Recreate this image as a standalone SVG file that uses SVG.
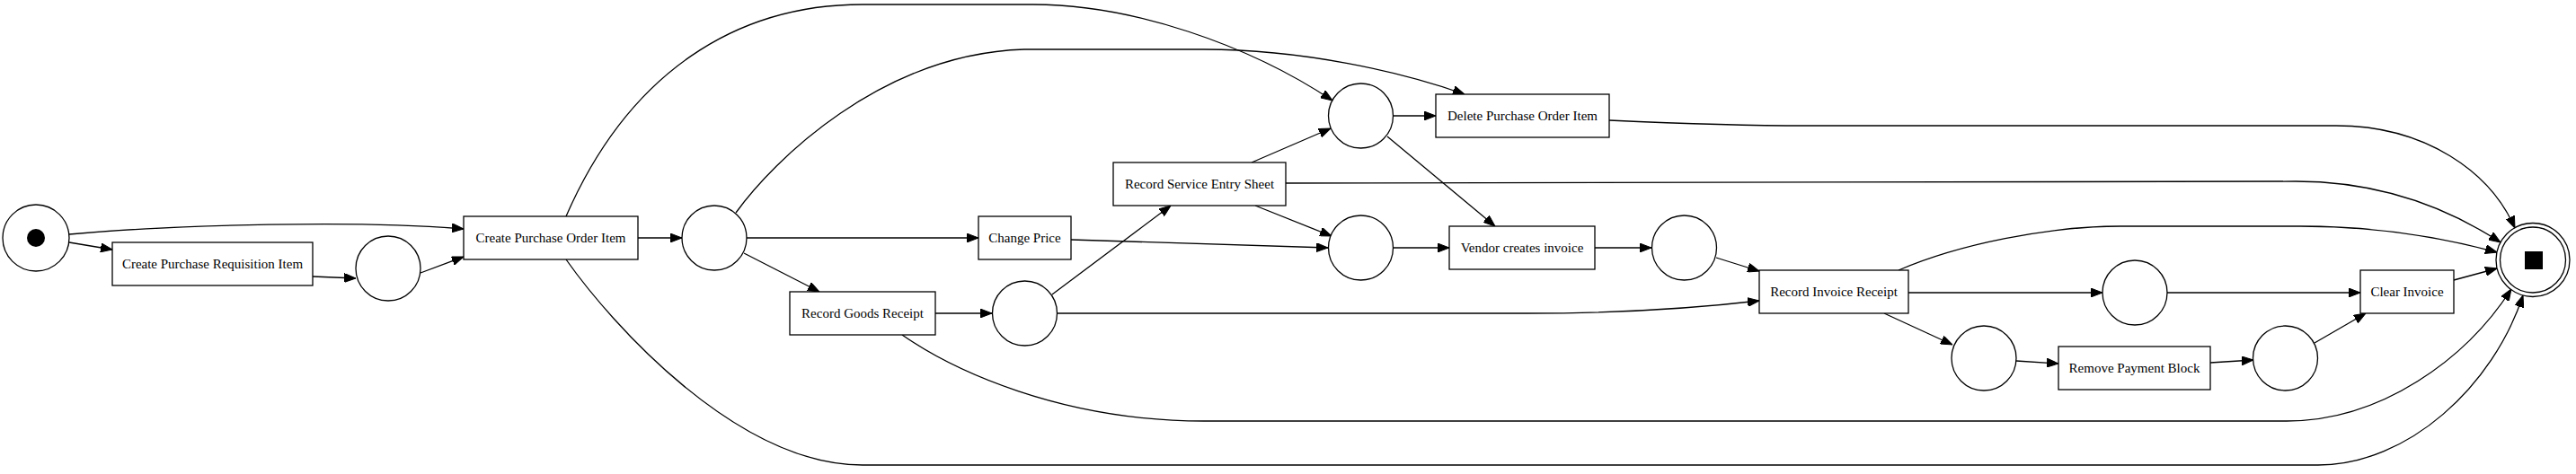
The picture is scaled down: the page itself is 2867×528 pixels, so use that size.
<svg xmlns="http://www.w3.org/2000/svg" width="2867" height="528" viewBox="0 0 2867 528">
<style>
.pl{fill:#fff;stroke:#000;stroke-width:1.3}
.tr{fill:#fff;stroke:#000;stroke-width:1.3}
.lb{font-family:"Liberation Serif","Times New Roman",serif;font-size:15px;fill:#000;text-anchor:middle}
.ed{fill:none;stroke:#000;stroke-width:1.3;marker-end:url(#ah)}
</style>
<defs>
<marker id="ah" viewBox="0 0 13 10" refX="13" refY="5" markerWidth="13" markerHeight="10" markerUnits="userSpaceOnUse" orient="auto">
<path d="M0,0 L13,5 L0,10 Z" fill="#000" stroke="#000" stroke-width="1"/>
</marker>
</defs>
<rect width="2867" height="528" fill="#fff"/>
<g id="edges">
<path class="ed" d="M77,270 L125,278"/>
<path class="ed" d="M77,261 C200,250 400,245 516,255"/>
<path class="ed" d="M348,308 L396,310"/>
<path class="ed" d="M468,304 L516,286"/>
<path class="ed" d="M710,265 L759,265"/>
<path class="ed" d="M630,241 C700,80 820,5 960,5 L1150,5 C1260,5 1390,50 1483,112"/>
<path class="ed" d="M630,289 C680,360 820,518 960,518 L2580,518 C2680,518 2775,430 2808,329"/>
<path class="ed" d="M831,265 L1089,265"/>
<path class="ed" d="M828,282 L912,325"/>
<path class="ed" d="M819,237 C860,180 980,60 1140,55 L1340,55 C1450,55 1560,80 1630,105"/>
<path class="ed" d="M1192,267 L1478,276"/>
<path class="ed" d="M1041,349 L1104,349"/>
<path class="ed" d="M1004,373 C1060,412 1180,469 1340,469 L2545,469 C2650,469 2745,400 2795,322"/>
<path class="ed" d="M1171,328 L1303,229"/>
<path class="ed" d="M1177,349 L1700,349 C1800,349 1890,343 1958,335"/>
<path class="ed" d="M1393,181 L1481,143"/>
<path class="ed" d="M1397,229 L1482,263"/>
<path class="ed" d="M1431,204 L2555,202 C2650,202 2725,232 2783,270"/>
<path class="ed" d="M1551,129 L1598,129"/>
<path class="ed" d="M1544,152 L1664,252"/>
<path class="ed" d="M1551,276 L1613,276"/>
<path class="ed" d="M1791,134 C1880,138 1950,140 2010,140 L2600,140 C2700,140 2772,192 2799,254"/>
<path class="ed" d="M1775,276 L1838,276"/>
<path class="ed" d="M1910,287 L1958,302"/>
<path class="ed" d="M2124,326 L2340,326"/>
<path class="ed" d="M2097,349 L2173,384"/>
<path class="ed" d="M2113,301 C2180,272 2280,252 2360,252 L2560,252 C2650,252 2720,265 2779,281"/>
<path class="ed" d="M2412,326 L2627,326"/>
<path class="ed" d="M2244,402 L2291,405"/>
<path class="ed" d="M2460,404 L2508,401"/>
<path class="ed" d="M2576,382 L2633,349"/>
<path class="ed" d="M2731,312 L2779,299"/>
</g>
<g id="start"><circle class="pl" cx="40" cy="265" r="37"/><circle cx="40" cy="265" r="10" fill="#000"/></g>
<g id="t_cpri"><rect class="tr" x="125" y="270" width="223" height="48"/><text class="lb" x="236.5" y="299">Create Purchase Requisition Item</text></g>
<g id="p1"><circle class="pl" cx="432" cy="299" r="36"/></g>
<g id="t_cpoi"><rect class="tr" x="516" y="241" width="194" height="48"/><text class="lb" x="613" y="270">Create Purchase Order Item</text></g>
<g id="p2"><circle class="pl" cx="795" cy="265" r="36"/></g>
<g id="t_cp"><rect class="tr" x="1089" y="241" width="103" height="48"/><text class="lb" x="1140.5" y="270">Change Price</text></g>
<g id="t_rgr"><rect class="tr" x="879" y="325" width="162" height="48"/><text class="lb" x="960" y="354">Record Goods Receipt</text></g>
<g id="p3"><circle class="pl" cx="1140.5" cy="349" r="36"/></g>
<g id="t_rses"><rect class="tr" x="1239" y="181" width="192" height="48"/><text class="lb" x="1335" y="210">Record Service Entry Sheet</text></g>
<g id="p4"><circle class="pl" cx="1514.5" cy="129" r="36"/></g>
<g id="p5"><circle class="pl" cx="1514.5" cy="276" r="36"/></g>
<g id="t_del"><rect class="tr" x="1598" y="105" width="193" height="48"/><text class="lb" x="1694.5" y="134">Delete Purchase Order Item</text></g>
<g id="t_vci"><rect class="tr" x="1613" y="252" width="162" height="48"/><text class="lb" x="1694" y="281">Vendor creates invoice</text></g>
<g id="p6"><circle class="pl" cx="1874.5" cy="276" r="36"/></g>
<g id="t_rir"><rect class="tr" x="1958" y="301" width="166" height="48"/><text class="lb" x="2041" y="330">Record Invoice Receipt</text></g>
<g id="p8"><circle class="pl" cx="2376" cy="326" r="36"/></g>
<g id="p7"><circle class="pl" cx="2208" cy="399" r="36"/></g>
<g id="t_rpb"><rect class="tr" x="2291" y="386" width="169" height="48"/><text class="lb" x="2375.5" y="415">Remove Payment Block</text></g>
<g id="p9"><circle class="pl" cx="2543.5" cy="399" r="36"/></g>
<g id="t_ci"><rect class="tr" x="2627" y="301" width="104" height="48"/><text class="lb" x="2679" y="330">Clear Invoice</text></g>
<g id="end"><circle class="pl" cx="2819" cy="289.5" r="41"/><circle class="pl" cx="2819" cy="289.5" r="36.5"/><rect x="2810" y="280" width="20" height="20" fill="#000"/></g>
</svg>
